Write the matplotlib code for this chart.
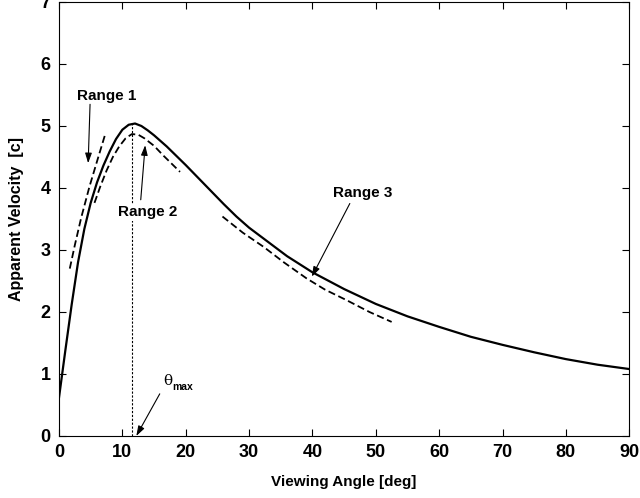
import matplotlib
matplotlib.use("Agg")
import matplotlib.pyplot as plt

plt.rcParams['font.family'] = ['Liberation Sans', 'DejaVu Sans']
plt.rcParams['font.weight'] = 'bold'

# full curve
theta = [0, 1, 2, 3, 4, 5, 6, 7, 8, 9, 10, 11, 12, 13, 14, 15, 16, 17, 18,
         19, 20, 22, 24, 26, 28, 30, 33, 36, 40, 45, 50, 55, 60, 65, 70, 75,
         80, 85, 90]
v_app = [0.62, 1.38, 2.12, 2.80, 3.34, 3.76, 4.09, 4.36, 4.59, 4.79, 4.94,
         5.02, 5.04, 5.00, 4.93, 4.85, 4.76, 4.67, 4.57, 4.47, 4.37, 4.16,
         3.95, 3.74, 3.54, 3.36, 3.13, 2.90, 2.64, 2.37, 2.13, 1.93, 1.76,
         1.60, 1.47, 1.35, 1.24, 1.15, 1.08]

# approximations (dashed)
r1_theta = [1.7, 2.5, 3.5, 4.8, 6.0, 7.3]
r1_v = [2.70, 3.08, 3.52, 4.02, 4.43, 4.87]

r2_theta = [5.6, 6.5, 7.5, 8.5, 9.5, 10.5, 11.5, 12.5, 13.5, 15, 16.5, 18, 19.1]
r2_v = [3.76, 4.02, 4.28, 4.50, 4.67, 4.80, 4.87, 4.86, 4.80, 4.68, 4.52, 4.37, 4.26]

r3_theta = [25.8, 29, 32.3, 35.5, 39.1, 42, 45.4, 49, 52.5]
r3_v = [3.54, 3.28, 3.05, 2.80, 2.54, 2.36, 2.19, 2.00, 1.84]

theta_max = 11.5
v_max = 5.04

fig = plt.figure(figsize=(6.4, 4.98), dpi=100)
ax = fig.add_axes([0.0922, 0.1245, 0.891, 0.8715])

ax.plot(theta, v_app, color='black', lw=1.6)
dash = (0, (4, 2))
ax.plot(r1_theta, r1_v, color='black', lw=1.3, linestyle=dash)
ax.plot(r2_theta, r2_v, color='black', lw=1.3, linestyle=dash)
ax.plot(r3_theta, r3_v, color='black', lw=1.3, linestyle=dash)
ax.plot([theta_max, theta_max], [0, v_max], color='black', lw=0.8, linestyle=(0, (2, 1.5)))

arrow = dict(arrowstyle='-|>,head_length=0.6,head_width=0.2', color='black', lw=0.8,
             mutation_scale=10, shrinkA=0, shrinkB=0)
txt = dict(ha='center', va='center', fontsize=11, fontweight='bold')
ax.annotate('', xy=(4.6, 4.40), xytext=(4.9, 5.35), arrowprops=arrow)
ax.text(7.6, 5.48, 'Range 1', **txt)
ax.annotate('', xy=(13.6, 4.69), xytext=(12.9, 3.81), arrowprops=arrow)
ax.text(14.0, 3.61, 'Range 2', bbox=dict(facecolor='white', edgecolor='none', pad=1), **txt)
ax.annotate('', xy=(39.9, 2.57), xytext=(45.9, 3.75), arrowprops=arrow)
ax.text(48.0, 3.92, 'Range 3', **txt)
ax.annotate('', xy=(12.2, 0.0), xytext=(15.9, 0.68), arrowprops=arrow)
ax.text(17.2, 0.88, 'θ', ha='center', va='center', fontsize=11, fontweight='normal',
        family=['DejaVu Serif'])
ax.text(17.9, 0.79, 'max', ha='left', va='center', fontsize=7.5, fontweight='bold')

ax.set_xlim(0, 90)
ax.set_ylim(0, 7)
ax.set_xticks(range(0, 91, 10))
ax.set_yticks(range(0, 8))
ax.tick_params(direction='in', top=True, right=True, length=5, width=0.8,
               labelsize=13, pad=6)
for lab in ax.get_xticklabels() + ax.get_yticklabels():
    lab.set_fontweight('bold')
for s in ax.spines.values():
    s.set_linewidth(0.8)

ax.set_xlabel('Viewing Angle [deg]', fontsize=11, fontweight='bold', labelpad=10)
ax.set_ylabel('Apparent Velocity  [c]', fontsize=11.5, fontweight='bold', labelpad=12)

fig.savefig('out.png', dpi=100)
